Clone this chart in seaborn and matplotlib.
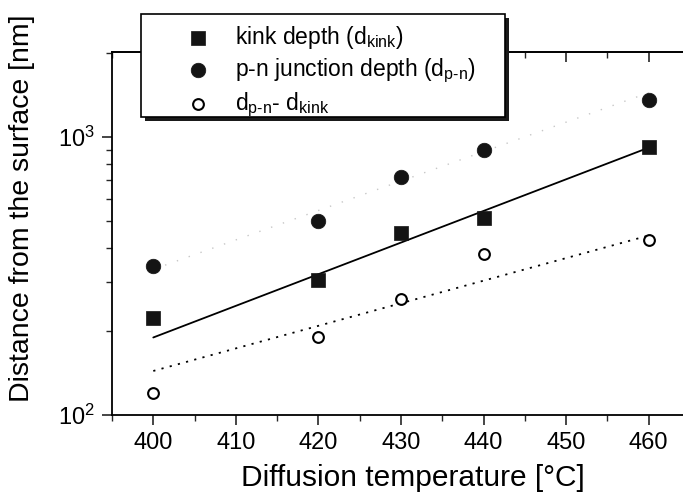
import numpy as np
import pandas as pd
import matplotlib
matplotlib.use("Agg")
import matplotlib.pyplot as plt
from matplotlib.patches import Rectangle
from matplotlib.ticker import MultipleLocator, LogLocator, NullFormatter
import seaborn as sns

# Measured depths versus diffusion temperature
temperature = [400, 420, 430, 440, 460]
kink_depth = [223, 306, 453, 511, 921]
pn_depth = [344, 500, 718, 898, 1359]
depth_difference = [120, 191, 261, 379, 426]

# Exponential fits (straight on the log axis), given by their end values
fit_temperature = [400, 460]
fit_kink = [190, 915]
fit_pn = [334, 1442]
fit_difference = [144, 442]

x_ticks = [400, 410, 420, 430, 440, 450, 460]

sns.set_style("ticks")
plt.rcParams["font.family"] = ["Liberation Sans", "DejaVu Sans"]
plt.rcParams["mathtext.fontset"] = "custom"
plt.rcParams["mathtext.rm"] = "Liberation Sans"
plt.rcParams["mathtext.it"] = "Liberation Sans"
plt.rcParams["mathtext.bf"] = "Liberation Sans:bold"

points = pd.DataFrame({"T": temperature, "kink": kink_depth,
                       "pn": pn_depth, "diff": depth_difference})
fits = pd.DataFrame({"T": fit_temperature, "kink": fit_kink,
                     "pn": fit_pn, "diff": fit_difference})

fig = plt.figure(figsize=(6.83, 4.98), dpi=100)
ax = fig.add_axes([112 / 683, 83 / 498, 578 / 683, 363 / 498])

ax.set_yscale("log")
ax.set_xlim(395, 465)
ax.set_ylim(100, 2020)

sns.lineplot(data=fits, x="T", y="pn", ax=ax, color="0.78", lw=1.0,
             linestyle=(0, (1, 8)), zorder=2)
sns.lineplot(data=fits, x="T", y="kink", ax=ax, color="black", lw=1.3, zorder=2)
sns.lineplot(data=fits, x="T", y="diff", ax=ax, color="black", lw=1.3,
             linestyle=(0, (1.2, 3.5)), zorder=2)

sns.scatterplot(data=points, x="T", y="kink", ax=ax, marker="s", s=90,
                color="#141414", edgecolor="#141414", linewidth=0.5,
                label="kink depth (d$_{\\text{kink}}$)", zorder=3)
sns.scatterplot(data=points, x="T", y="pn", ax=ax, marker="o", s=110,
                color="#141414", edgecolor="#141414", linewidth=0.5,
                label="p-n junction depth (d$_{\\text{p-n}}$)", zorder=3)
sns.scatterplot(data=points, x="T", y="diff", ax=ax, marker="o", s=60,
                facecolor="white", edgecolor="black", linewidth=1.5,
                label="d$_{\\text{p-n}}$- d$_{\\text{kink}}$", zorder=3)

handles, labels = ax.get_legend_handles_labels()
ax.get_legend().remove()

ax.set_xticks(x_ticks)
ax.xaxis.set_minor_locator(MultipleLocator(5))
ax.yaxis.set_major_locator(LogLocator(base=10))
ax.yaxis.set_minor_locator(LogLocator(base=10, subs=np.arange(2, 10)))
ax.yaxis.set_minor_formatter(NullFormatter())

ax.tick_params(axis="both", which="major", direction="out", length=7, width=1.2,
               labelsize=17, top=False, right=False, pad=5, labelcolor="black")
ax.tick_params(axis="both", which="minor", direction="out", length=4, width=1.0,
               top=False, right=False)

top = ax.secondary_xaxis("top")
top.xaxis.set_major_locator(MultipleLocator(10))
top.xaxis.set_minor_locator(MultipleLocator(5))
top.tick_params(which="major", direction="in", length=7, width=1.2, labeltop=False)
top.tick_params(which="minor", direction="in", length=4, width=1.0)
top.spines["top"].set_linewidth(1.3)

for sp in ax.spines.values():
    sp.set_linewidth(1.3)
    sp.set_color("black")

ax.set_xlabel("Diffusion temperature [°C]", fontsize=21.5, color="black")
ax.set_ylabel("Distance from the surface [nm]", fontsize=20.5, color="black")
ax.xaxis.set_label_coords((413 - 112) / 578, -(478 - 415) / 363 - 0.0)
ax.xaxis.label.set_va("center")
ax.yaxis.set_label_coords(-(112 - 22) / 578, (498 - 208 - 83) / 363)
ax.yaxis.label.set_va("center")

# legend frame with a solid drop shadow
bx, by, bw, bh = 141 / 683, (498 - 117) / 498, 364 / 683, 103 / 498
fig.add_artist(Rectangle((bx + 4 / 683, by - 4 / 498), bw, bh, transform=fig.transFigure,
                         facecolor="#1a1a1a", edgecolor="none", zorder=3))
fig.add_artist(Rectangle((bx, by), bw, bh, transform=fig.transFigure,
                         facecolor="white", edgecolor="black", lw=1.2, zorder=4))

leg = fig.legend(handles, labels, loc="upper left",
                 bbox_to_anchor=(187 / 683, 1 - 24 / 498), bbox_transform=fig.transFigure,
                 frameon=False, fontsize=16.5, borderpad=0, borderaxespad=0,
                 handlelength=1.0, handletextpad=1.1, labelspacing=0.25)
leg.set_zorder(6)
for t in leg.get_texts():
    t.set_color("black")

fig.savefig("out.png", dpi=100)
